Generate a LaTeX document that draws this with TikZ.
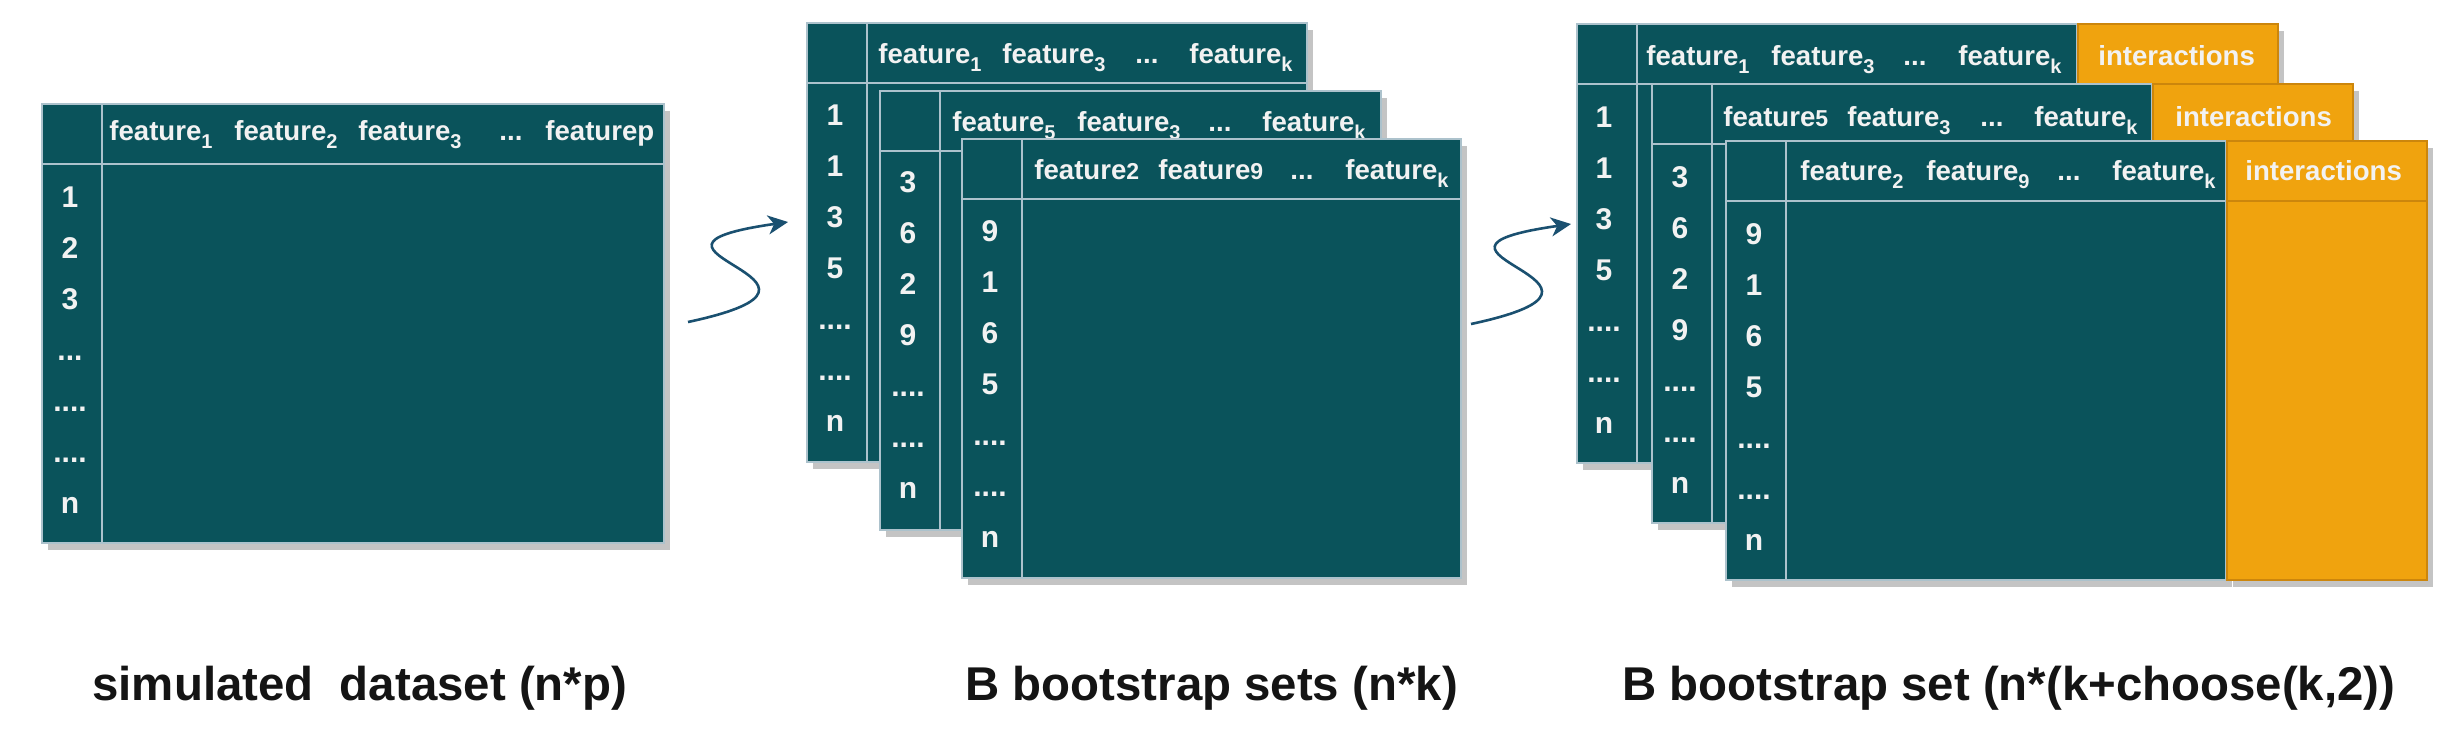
\documentclass[tikz,border=0pt]{standalone}
\usepackage{fontspec}
\setmainfont{Liberation Sans}
\usetikzlibrary{arrows.meta}
\definecolor{tealc}{RGB}{10,83,91}
\definecolor{gridc}{RGB}{172,194,204}
\definecolor{orangec}{RGB}{240,163,14}
\definecolor{orangeline}{RGB}{204,134,12}
\definecolor{shadowc}{RGB}{196,196,196}
\definecolor{arrowc}{RGB}{26,80,112}
\definecolor{textc}{RGB}{242,242,242}
\definecolor{capc}{RGB}{20,20,20}
\newcommand\sbt[1]{\raisebox{-4.3pt}{\fontsize{10pt}{10pt}\selectfont #1}}
\newcommand\pdg[1]{{\fontsize{11.5pt}{11.5pt}\selectfont #1}}
\tikzset{
  hdr/.style={text=textc, font=\fontsize{13.8pt}{14pt}\selectfont\bfseries, inner sep=0pt, anchor=base west},
  rowlab/.style={text=textc, font=\fontsize{15pt}{15pt}\selectfont\bfseries, inner sep=0pt, anchor=base},
  caption/.style={text=capc, font=\fontsize{23.7pt}{24pt}\selectfont\bfseries, inner sep=0pt, anchor=base west},
  tablebox/.style={fill=tealc, draw=gridc, line width=1pt},
  gridline/.style={draw=gridc, line width=1pt},
  intbox/.style={fill=orangec, draw=orangeline, line width=1pt},
  intline/.style={draw=orangeline, line width=1pt},
  shadowbox/.style={fill=shadowc},
  flow/.style={draw=arrowc, line width=1.3pt, -{Stealth[length=10pt,width=9.5pt,inset=3pt]}},
}
% teal data table: name, x, y, width
\newcommand\dtab[4]{%
  \fill[shadowbox] (#2+6,#3+7) rectangle (#2+#4+6,#3+446);
  \draw[tablebox] (#2,#3) rectangle (#2+#4,#3+439);
  \draw[gridline] (#2,#3+60) -- (#2+#4,#3+60);
  \draw[gridline] (#2+60,#3) -- (#2+60,#3+439);
  \coordinate (#1) at (#2,#3);
}
% orange interactions block: name, x, y
\newcommand\itab[3]{%
  \fill[shadowbox] (#2+6,#3+7) rectangle (#2+206,#3+446);
  \draw[intbox] (#2,#3) rectangle (#2+200,#3+439);
  \draw[intline] (#2,#3+60) -- (#2+200,#3+60);
  \coordinate (#1) at (#2,#3);
}
% row labels: name, x, first baseline, r0, r1, r2, r3
\newcommand\rowl[7]{%
  \node[rowlab] (#1r0) at (#2,#3) {#4};
  \node[rowlab] (#1r1) at (#2,#3+51) {#5};
  \node[rowlab] (#1r2) at (#2,#3+102) {#6};
  \node[rowlab] (#1r3) at (#2,#3+153) {#7};
  \node[rowlab] (#1r4) at (#2,#3+204) {....};
  \node[rowlab] (#1r5) at (#2,#3+255) {....};
  \node[rowlab] (#1r6) at (#2,#3+306) {n};
}
\begin{document}
\begin{tikzpicture}[x=0.5pt,y=-0.5pt]
\useasboundingbox (0,0) rectangle (2458,746);
\fill[white] (0,0) rectangle (2458,746);

% ---------- simulated dataset ----------
\dtab{T1}{42}{104}{622}
\node[hdr] (T1h1) at (109,140) {feature\sbt{1}};
\node[hdr] (T1h2) at (234,140) {feature\sbt{2}};
\node[hdr] (T1h3) at (358,140) {feature\sbt{3}};
\node[hdr] (T1h4) at (499,140) {...};
\node[hdr] (T1h5) at (545,140) {featurep};
\rowl{T1}{70}{207}{1}{2}{3}{...}

% ---------- bootstrap sets ----------
\dtab{T2a}{807}{23}{500}
\node[hdr] (T2ah1) at (878,63) {feature\sbt{1}};
\node[hdr] (T2ah2) at (1002,63) {feature\sbt{3}};
\node[hdr] (T2ah3) at (1135,63) {...};
\node[hdr] (T2ah4) at (1189,63) {feature\sbt{k}};
\rowl{T2a}{835}{125}{1}{1}{3}{5}

\dtab{T2b}{880}{91}{501}
\node[hdr] (T2bh1) at (952,131) {feature\sbt{5}};
\node[hdr] (T2bh2) at (1077,131) {feature\sbt{3}};
\node[hdr] (T2bh3) at (1208,131) {...};
\node[hdr] (T2bh4) at (1262,131) {feature\sbt{k}};
\rowl{T2b}{908}{192}{3}{6}{2}{9}

\dtab{T2c}{962}{139}{499}
\node[hdr] (T2ch1) at (1034,179) {feature\pdg{2}};
\node[hdr] (T2ch2) at (1158,179) {feature\pdg{9}};
\node[hdr] (T2ch3) at (1290,179) {...};
\node[hdr] (T2ch4) at (1345,179) {feature\sbt{k}};
\rowl{T2c}{990}{241}{9}{1}{6}{5}

% ---------- bootstrap sets with interactions ----------
\dtab{T3a}{1577}{24}{500}
\itab{I3a}{2078}{24}
\node[hdr] (T3ah1) at (1646,65) {feature\sbt{1}};
\node[hdr] (T3ah2) at (1771,65) {feature\sbt{3}};
\node[hdr] (T3ah3) at (1903,65) {...};
\node[hdr] (T3ah4) at (1958,65) {feature\sbt{k}};
\node[hdr] (I3ah) at (2098,65) {interactions};
\rowl{T3a}{1604}{127}{1}{1}{3}{5}

\dtab{T3b}{1652}{84}{500}
\itab{I3b}{2153}{84}
\node[hdr] (T3bh1) at (1723,126) {feature\pdg{5}};
\node[hdr] (T3bh2) at (1847,126) {feature\sbt{3}};
\node[hdr] (T3bh3) at (1980,126) {...};
\node[hdr] (T3bh4) at (2034,126) {feature\sbt{k}};
\node[hdr] (I3bh) at (2175,126) {interactions};
\rowl{T3b}{1680}{187}{3}{6}{2}{9}

\dtab{T3c}{1726}{141}{500}
\itab{I3c}{2227}{141}
\node[hdr] (T3ch1) at (1800,180) {feature\sbt{2}};
\node[hdr] (T3ch2) at (1926,180) {feature\sbt{9}};
\node[hdr] (T3ch3) at (2057,180) {...};
\node[hdr] (T3ch4) at (2112,180) {feature\sbt{k}};
\node[hdr] (I3ch) at (2245,180) {interactions};
\rowl{T3c}{1754}{244}{9}{1}{6}{5}

% ---------- arrows ----------
\coordinate (a1s) at (688,322);
\coordinate (a1e) at (788,222);
\draw[flow] (a1s) .. controls +(196,-42) and +(-196,28) .. (a1e);
\coordinate (a2s) at (1471,324);
\coordinate (a2e) at (1571,224);
\draw[flow] (a2s) .. controls +(196,-42) and +(-196,28) .. (a2e);

% ---------- captions ----------
\node[caption] (cap1) at (92,700) {simulated\ \ dataset (n*p)};
\node[caption] (cap2) at (965,700) {B bootstrap sets (n*k)};
\node[caption] (cap3) at (1622,700) {B bootstrap set (n*(k+choose(k,2))};
\end{tikzpicture}
\end{document}
